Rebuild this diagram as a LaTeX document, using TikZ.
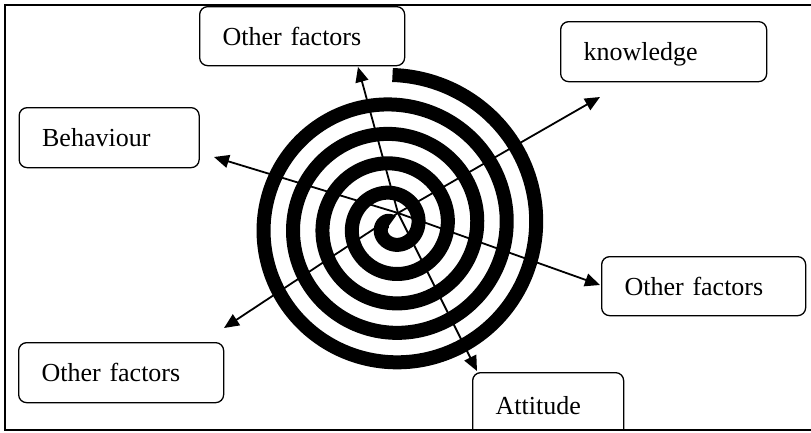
\documentclass[tikz,border=0pt]{standalone}
\usepackage{fontspec}
\setmainfont{Liberation Serif}
\usetikzlibrary{arrows.meta}
\tikzset{
  fbox/.style={draw, rounded corners=8pt, line width=1.3pt, align=left,
    inner xsep=23pt, inner ysep=0pt, text height=18pt, text depth=0pt,
    minimum height=60pt, anchor=north west,
    font=\fontsize{26}{30}\selectfont},
  ray/.style={line width=1.8pt, -{Triangle[length=15pt,width=13pt]}},
  coil/.style={line width=14pt, line cap=butt, line join=round}
}
\begin{document}
\begin{tikzpicture}[x=1pt,y=-1pt]
\useasboundingbox (0,0) rectangle (811,432);
% frame (open on the right)
\draw[line width=1.3pt] (811,5) -- (5,5) -- (5,430) -- (811,430);
% spiral
\draw[coil] plot[domain=0:1790, samples=900, variable=\t]
  ({392.5+(151-0.0819444*\t)*sin(\t)}, {226-(151-0.0819444*\t)*cos(\t)});
% boxes
\node[fbox, text width=159pt, minimum height=59pt] (oftop) at (199,6) {Other factors};
\node[fbox, text width=160pt] (know) at (560,21) {knowledge};
\node[fbox, text width=134pt] (beh) at (18.5,107) {Behaviour};
\node[fbox, text width=158pt, minimum height=59pt] (ofright) at (601,256) {Other factors};
\node[fbox, text width=159pt] (ofbl) at (18,342) {Other factors};
\begin{scope}
\clip (0,0) rectangle (811,430);
\node[fbox, text width=105pt, minimum height=66pt] (att) at (472,372) {Attitude};
\end{scope}
% arrows
\coordinate (c) at (398,213);
\coordinate (tup) at (358,67);
\coordinate (tknow) at (600,97);
\coordinate (tright) at (600,285);
\coordinate (tatt) at (477,371);
\coordinate (tbl) at (224,328);
\coordinate (tbeh) at (214,157);
\foreach \e in {tup,tknow,tright,tatt,tbl,tbeh} \draw[ray] (c) -- (\e);
\end{tikzpicture}
\end{document}
